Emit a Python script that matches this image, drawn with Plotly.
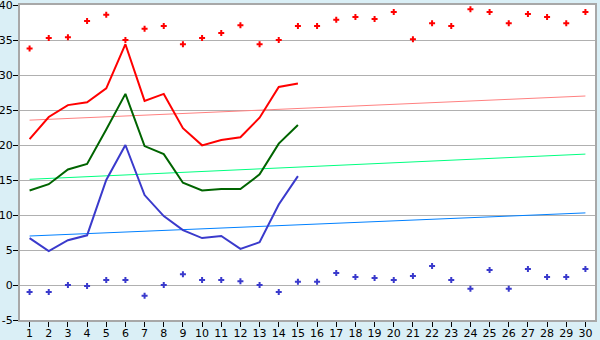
import plotly.graph_objects as go

days = list(range(1, 31))
tick_labels = [str(d) for d in days]
y_ticks = [-5, 0, 5, 10, 15, 20, 25, 30, 35, 40]
y_tick_labels = ["-5", "0", "5", "10", "15", "20", "25", "30", "35", "40"]

red_dots = [33.8, 35.3, 35.4, 37.7, 38.6, 35.0, 36.6, 37.0, 34.4, 35.3,
            36.0, 37.1, 34.4, 35.0, 37.0, 37.0, 37.9, 38.3, 38.0, 39.0,
            35.1, 37.4, 37.0, 39.4, 39.0, 37.4, 38.7, 38.3, 37.4, 39.0]
blue_dots = [-1.0, -1.0, 0.0, -0.15, 0.7, 0.7, -1.55, 0.0, 1.55, 0.7,
             0.7, 0.55, 0.0, -1.0, 0.45, 0.45, 1.7, 1.15, 1.0, 0.7,
             1.3, 2.7, 0.7, -0.55, 2.15, -0.55, 2.3, 1.15, 1.15, 2.3]

line_days = list(range(1, 16))
red_line = [20.85, 24.0, 25.7, 26.1, 28.1, 34.4, 26.3, 27.3, 22.4, 19.95,
            20.7, 21.1, 23.9, 28.3, 28.8]
green_line = [13.5, 14.4, 16.5, 17.3, 22.2, 27.3, 19.85, 18.7, 14.6, 13.5,
              13.7, 13.7, 15.8, 20.2, 22.85]
blue_line = [6.7, 4.85, 6.4, 7.1, 15.0, 20.0, 12.85, 9.85, 7.85, 6.7,
             7.0, 5.15, 6.1, 11.5, 15.55]

trend_x = [1, 30]
red_trend = [23.55, 27.0]
green_trend = [15.1, 18.7]
blue_trend = [7.0, 10.3]

fig = go.Figure()

fig.add_trace(go.Scatter(x=trend_x, y=red_trend, mode="lines",
                         line=dict(color="#ff8080", width=1)))
fig.add_trace(go.Scatter(x=trend_x, y=green_trend, mode="lines",
                         line=dict(color="#00ff80", width=1)))
fig.add_trace(go.Scatter(x=trend_x, y=blue_trend, mode="lines",
                         line=dict(color="#0080ff", width=1)))

fig.add_trace(go.Scatter(x=line_days, y=red_line, mode="lines",
                         line=dict(color="#ff0000", width=2)))
fig.add_trace(go.Scatter(x=line_days, y=green_line, mode="lines",
                         line=dict(color="#006400", width=2)))
fig.add_trace(go.Scatter(x=line_days, y=blue_line, mode="lines",
                         line=dict(color="#3a3acc", width=2)))

fig.add_trace(go.Scatter(x=days, y=red_dots, mode="markers",
                         marker=dict(symbol="cross", size=5, color="#ff0000",
                                     line=dict(width=0))))
fig.add_trace(go.Scatter(x=days, y=blue_dots, mode="markers",
                         marker=dict(symbol="cross", size=5, color="#3a3acc",
                                     line=dict(width=0))))

fig.update_layout(
    width=600, height=340,
    margin=dict(l=20, r=5, t=5, b=20),
    paper_bgcolor="#daeff6",
    plot_bgcolor="#ffffff",
    showlegend=False,
    font=dict(family="DejaVu Sans", size=11, color="#000000"),
)
fig.update_xaxes(
    range=[0.5, 30.5], automargin=False, ticklabeloverflow="allow",
    ticklabelstandoff=-3,
    tickmode="array", tickvals=days, ticktext=tick_labels,
    ticks="outside", ticklen=5, tickcolor="#000000", tickwidth=1,
    showgrid=False, zeroline=False,
    showline=True, linecolor="#a8a8a8", linewidth=2, mirror=True,
    tickfont=dict(size=11),
)
fig.update_yaxes(
    range=[-5, 40], automargin=False, ticklabeloverflow="allow",
    ticklabelstandoff=-2,
    tickmode="array", tickvals=y_ticks, ticktext=y_tick_labels,
    ticks="outside", ticklen=5, tickcolor="#000000", tickwidth=1,
    showgrid=True, gridcolor="#b0b0b0", gridwidth=1,
    zeroline=False,
    showline=True, linecolor="#a8a8a8", linewidth=2, mirror=True,
    tickfont=dict(size=11),
)

fig.write_html("out.html")
